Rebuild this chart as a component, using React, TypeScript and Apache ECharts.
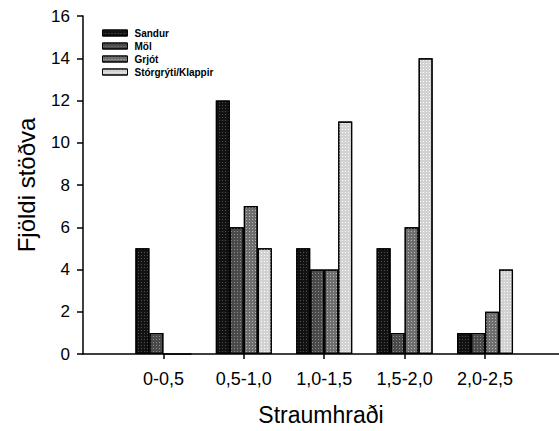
import React, { useEffect, useRef } from "react";
import * as echarts from "echarts";

const categories = ["0-0,5", "0,5-1,0", "1,0-1,5", "1,5-2,0", "2,0-2,5"];
const seriesNames = ["Sandur", "Möl", "Grjót", "Stórgrýti/Klappir"];
const sandur = [5, 12, 5, 5, 1];
const mol = [1, 6, 4, 1, 1];
const grjot = [0, 7, 4, 6, 2];
const storgryti = [0, 5, 11, 14, 4];
const yTicks = [0, 2, 4, 6, 8, 10, 12, 14, 16];

const colors = ["#121212", "#4a4a4a", "#6e6e6e", "#d2d2d2"];
const decalColors = ["rgba(120,120,120,0.6)", "rgba(170,170,170,0.7)", "rgba(200,200,200,0.8)", "rgba(255,255,255,0.9)"];

export default function App() {
  const ref = useRef<HTMLDivElement>(null);
  useEffect(() => {
    if (!ref.current) return;
    const chart = echarts.init(ref.current, undefined, { renderer: "svg" });
    const all = [sandur, mol, grjot, storgryti];
    const font = "'Liberation Sans', Arial, sans-serif";
    chart.setOption({
      animation: false,
      textStyle: { fontFamily: font },
      grid: { left: 83, right: 0, top: 16, bottom: 75, containLabel: false },
      legend: {
        orient: "vertical",
        left: 102,
        top: 28,
        padding: 0,
        itemWidth: 25,
        itemHeight: 6,
        itemGap: 3,
        icon: "rect",
        itemStyle: { borderColor: "#000", borderWidth: 1 },
        textStyle: { fontSize: 10, fontWeight: "bold", color: "#000", fontFamily: font, lineHeight: 10, padding: [0, 0, 0, 2] },
        data: seriesNames,
      },
      xAxis: {
        type: "value",
        min: 0,
        max: 5.92,
        interval: 1,
        name: "Straumhraði",
        nameLocation: "middle",
        nameGap: 49,
        nameTextStyle: { fontSize: 23, color: "#000", fontFamily: font },
        splitLine: { show: false },
        axisLine: { show: true, lineStyle: { color: "#000", width: 1.5 } },
        axisTick: { show: true, length: 5, lineStyle: { color: "#000", width: 1.5 }, customValues: [1, 2, 3, 4, 5] },
        axisLabel: {
          fontSize: 18,
          color: "#000",
          margin: 16,
          customValues: [1, 2, 3, 4, 5],
          formatter: (v: number) => categories[Math.round(v) - 1] ?? "",
        },
      },
      yAxis: {
        type: "value",
        min: yTicks[0],
        max: yTicks[yTicks.length - 1],
        interval: 2,
        name: "Fjöldi stöðva",
        nameLocation: "middle",
        nameGap: 45,
        nameTextStyle: { fontSize: 24, color: "#000", fontFamily: font },
        splitLine: { show: false },
        axisLine: { show: true, lineStyle: { color: "#000", width: 1.5 } },
        axisTick: { show: true, length: 6, lineStyle: { color: "#000", width: 1.5 } },
        axisLabel: { fontSize: 17, color: "#000", margin: 13 },
      },
      series: seriesNames.map((name, si) => ({
        name,
        type: "bar",
        barWidth: 14,
        barGap: "0%",
        data: all[si].map((v, i) => [i + 1, v]),
        itemStyle: {
          color: colors[si],
          borderColor: "#000",
          borderWidth: 1.2,
          decal: {
            symbol: "rect",
            symbolSize: 1,
            color: decalColors[si],
            dashArrayX: [1, 2],
            dashArrayY: [1, 2],
            rotation: 0,
          },
        },
      })),
    });
    return () => chart.dispose();
  }, []);
  return <div ref={ref} style={{ width: 559, height: 431, position: "absolute", left: 0, top: 0 }} />;
}
